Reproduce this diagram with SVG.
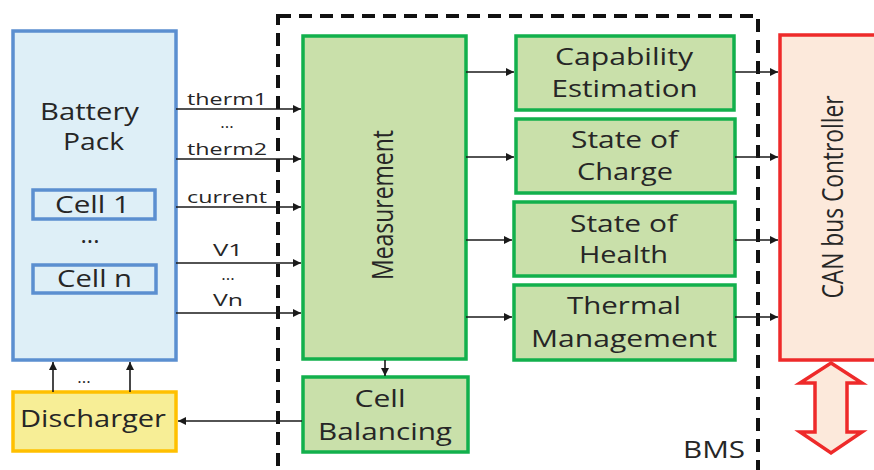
<svg xmlns="http://www.w3.org/2000/svg" width="874" height="470" viewBox="0 0 874 470">
<defs>
<marker id="ah" viewBox="0 0 10 10" refX="10" refY="5" markerWidth="10" markerHeight="8" markerUnits="userSpaceOnUse" orient="auto">
<path d="M0,0 L10,5 L0,10 z" fill="#1a1a1a"/>
</marker>
<style>
text{font-family:"Open Sans","DejaVu Sans",sans-serif;fill:#262626;}
.big{font-size:24px;text-anchor:middle;}
.lbl{font-size:17px;text-anchor:middle;}
.rot{font-size:30px;text-anchor:middle;}
.green{fill:#C9E0AA;stroke:#12B04C;stroke-width:3.5;}
.con{stroke:#1a1a1a;stroke-width:1.6;fill:none;marker-end:url(#ah);}
</style>
</defs>
<rect width="874" height="470" fill="#ffffff"/>
<g id="bms">
<rect x="278" y="16" width="480" height="480" fill="none" stroke="#111" stroke-width="4" stroke-dasharray="13 8"/>
<text class="big" x="714" y="458" font-size="22" textLength="62" lengthAdjust="spacingAndGlyphs">BMS</text>
</g>
<g id="battery-pack">
<rect x="13" y="31" width="163" height="329" fill="#DEEFF7" stroke="#5B8FD0" stroke-width="3.5"/>
<text class="big" x="89.5" y="120" textLength="99" lengthAdjust="spacingAndGlyphs">Battery</text>
<text class="big" x="93.5" y="150" textLength="61" lengthAdjust="spacingAndGlyphs">Pack</text>
<text class="big" x="90" y="243">...</text>
</g>
<g id="cell-1">
<rect x="33" y="190" width="122" height="29" fill="#DEEFF7" stroke="#5B8FD0" stroke-width="3.5"/>
<text class="big" x="92.5" y="213" textLength="75" lengthAdjust="spacingAndGlyphs">Cell 1</text>
</g>
<g id="cell-n">
<rect x="33" y="265" width="123" height="28" fill="#DEEFF7" stroke="#5B8FD0" stroke-width="3.5"/>
<text class="big" x="94.5" y="287" textLength="75" lengthAdjust="spacingAndGlyphs">Cell n</text>
</g>
<g id="discharger">
<rect x="13" y="392" width="163" height="59" fill="#F7EE96" stroke="#FFC000" stroke-width="3.5"/>
<text class="big" x="93" y="427" textLength="146" lengthAdjust="spacingAndGlyphs">Discharger</text>
</g>
<g id="measurement">
<rect x="303" y="36" width="163" height="323" class="green"/>
<text class="rot" transform="translate(393,205) rotate(-90)" textLength="150" lengthAdjust="spacingAndGlyphs">Measurement</text>
</g>
<g id="cell-balancing">
<rect x="303" y="377" width="165" height="75" class="green"/>
<text class="big" x="380" y="407" textLength="51" lengthAdjust="spacingAndGlyphs">Cell</text>
<text class="big" x="385" y="440" textLength="134" lengthAdjust="spacingAndGlyphs">Balancing</text>
</g>
<g id="capability-estimation">
<rect x="516" y="36" width="218" height="74" class="green"/>
<text class="big" x="624" y="65" textLength="138" lengthAdjust="spacingAndGlyphs">Capability</text>
<text class="big" x="624.5" y="97" textLength="146" lengthAdjust="spacingAndGlyphs">Estimation</text>
</g>
<g id="state-of-charge">
<rect x="516" y="119" width="219" height="74" class="green"/>
<text class="big" x="624.5" y="148" textLength="107" lengthAdjust="spacingAndGlyphs">State of</text>
<text class="big" x="625" y="180" textLength="96" lengthAdjust="spacingAndGlyphs">Charge</text>
</g>
<g id="state-of-health">
<rect x="514" y="202" width="221" height="74" class="green"/>
<text class="big" x="623.5" y="232" textLength="107" lengthAdjust="spacingAndGlyphs">State of</text>
<text class="big" x="623.5" y="263" textLength="89" lengthAdjust="spacingAndGlyphs">Health</text>
</g>
<g id="thermal-management">
<rect x="514" y="285" width="221" height="75" class="green"/>
<text class="big" x="624" y="314" textLength="114" lengthAdjust="spacingAndGlyphs">Thermal</text>
<text class="big" x="624" y="347" textLength="186" lengthAdjust="spacingAndGlyphs">Management</text>
</g>
<g id="can-bus-controller">
<rect x="780" y="35" width="110" height="325" fill="#FCE9DB" stroke="#EE2A2A" stroke-width="3.5"/>
<text class="rot" transform="translate(843,197) rotate(-90)" textLength="203" lengthAdjust="spacingAndGlyphs">CAN bus Controller</text>
</g>
<g id="can-bus-link">
<polygon points="831,363 862,383 847,383 847,432 862,432 831,453 800,432 815,432 815,383 800,383" fill="#FCE9DB" stroke="#EE2A2A" stroke-width="3.5" stroke-linejoin="miter"/>
</g>
<g id="connectors">
<line class="con" x1="176" y1="109" x2="301" y2="109"/>
<line class="con" x1="176" y1="159" x2="301" y2="159"/>
<line class="con" x1="176" y1="207" x2="301" y2="207"/>
<line class="con" x1="176" y1="263" x2="301" y2="263"/>
<line class="con" x1="176" y1="313" x2="301" y2="313"/>
<text class="lbl" x="227" y="105" textLength="80" lengthAdjust="spacingAndGlyphs">therm1</text>
<text class="lbl" x="227" y="128">...</text>
<text class="lbl" x="227" y="155" textLength="80" lengthAdjust="spacingAndGlyphs">therm2</text>
<text class="lbl" x="227" y="203" textLength="80" lengthAdjust="spacingAndGlyphs">current</text>
<text class="lbl" x="228" y="256" textLength="30" lengthAdjust="spacingAndGlyphs">V1</text>
<text class="lbl" x="228" y="280">...</text>
<text class="lbl" x="228" y="306" textLength="30" lengthAdjust="spacingAndGlyphs">Vn</text>
<line class="con" x1="466" y1="72" x2="514" y2="72"/>
<line class="con" x1="466" y1="157" x2="514" y2="157"/>
<line class="con" x1="466" y1="240" x2="512" y2="240"/>
<line class="con" x1="466" y1="317" x2="512" y2="317"/>
<line class="con" x1="735" y1="72" x2="778" y2="72"/>
<line class="con" x1="735" y1="157" x2="778" y2="157"/>
<line class="con" x1="735" y1="240" x2="778" y2="240"/>
<line class="con" x1="735" y1="317" x2="778" y2="317"/>
<line class="con" x1="385" y1="360" x2="385" y2="376"/>
<line class="con" x1="302" y1="421" x2="178" y2="421"/>
<line class="con" x1="53" y1="392" x2="53" y2="362"/>
<line class="con" x1="130" y1="392" x2="130" y2="362"/>
<text class="lbl" x="84" y="383" font-size="20">...</text>
</g>
</svg>
